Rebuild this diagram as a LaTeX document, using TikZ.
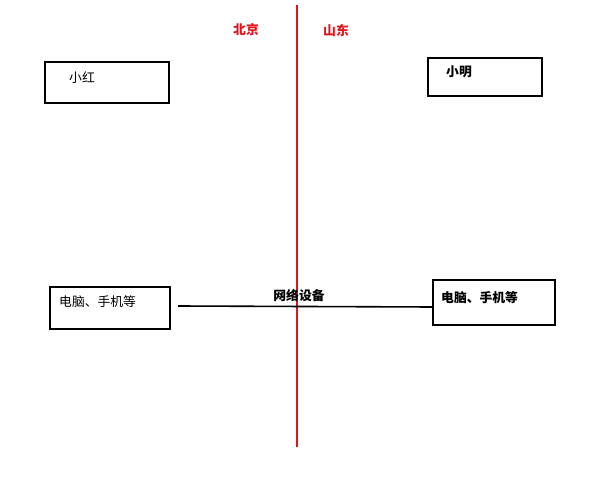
\documentclass[tikz,border=0pt]{standalone}
\usepackage{fontspec}
\newfontfamily\cjk{Noto Sans CJK SC}
\definecolor{divred}{RGB}{225,20,30}
\begin{document}
\begin{tikzpicture}[x=1bp,y=-1bp,
  box/.style={draw=black,line width=1.6bp,inner sep=0pt},
  txt/.style={font=\cjk\fontsize{12.8bp}{14bp}\selectfont,inner sep=0pt,anchor=west},
  btxt/.style={font=\cjk\bfseries\fontsize{12.8bp}{14bp}\selectfont,inner sep=0pt,anchor=west},
  redtxt/.style={font=\cjk\bfseries\fontsize{12.8bp}{14bp}\selectfont,inner sep=0pt,text=divred},
  link/.style={draw=black,line width=1.6bp}]
\useasboundingbox (0,0) rectangle (599,479);
% divider
\coordinate (dtop) at (296.5,5);
\coordinate (dbot) at (296.5,447);
\draw[divred,line width=2bp] (dtop) -- (dbot);
\node[redtxt] (bj) at (246,30) {北京};
\node[redtxt] (sd) at (336,31) {山东};
% boxes
\node[box,minimum width=124bp,minimum height=41bp] (xh) at (107,82.5) {};
\node[txt] (xht) at (69,78) {小红};
\node[box,minimum width=114bp,minimum height=38bp] (xm) at (485,77) {};
\node[btxt] (xmt) at (446,72) {小明};
\node[box,minimum width=120bp,minimum height=42bp] (lb) at (110,308) {};
\node[txt] (lbt) at (59,302) {电脑、手机等};
\node[box,minimum width=122bp,minimum height=45bp] (rb) at (494,302.5) {};
\node[btxt] (rbt) at (441,298) {电脑、手机等};
% network link
\coordinate (ls) at (178,306);
\coordinate (le) at (433,307);
\draw[link] (ls) -- (le);
\node[btxt,anchor=center] (net) at (299,296) {网络设备};
\end{tikzpicture}
\end{document}
